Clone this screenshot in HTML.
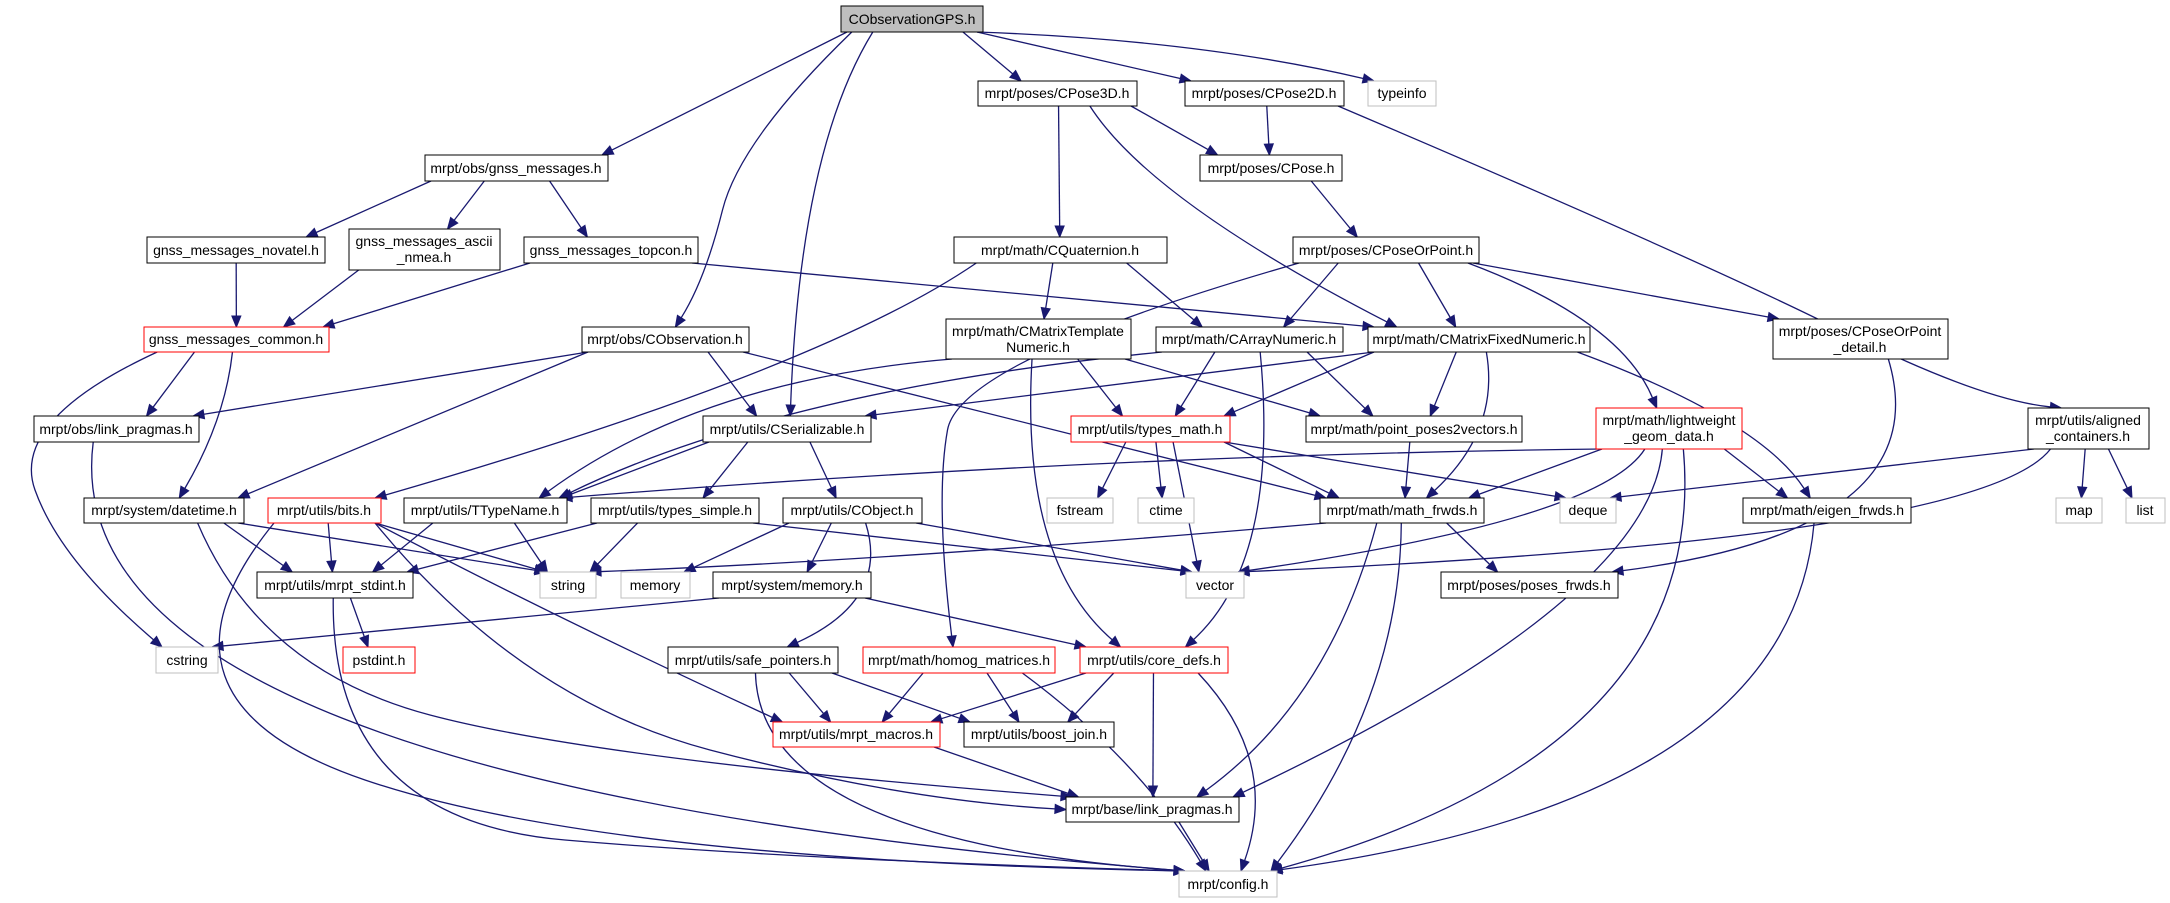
<!DOCTYPE html>
<html><head><meta charset="utf-8"><style>
html,body{margin:0;padding:0;background:#fff;width:2170px;height:903px;overflow:hidden}
svg text{font-family:"Liberation Sans",sans-serif;font-size:14px;fill:#000}
</style></head><body>
<svg id="g" width="2170" height="903" viewBox="0 0 2170 903" xmlns="http://www.w3.org/2000/svg">
<g id="edges" fill="none" stroke="#191970" stroke-width="1.3"></g>
<g id="arrows" fill="#191970" stroke="#191970"></g>
<g id="nodes">
<rect id="gps" x="841" y="6" width="142" height="26" fill="#bfbfbf" stroke="#000"/><text x="912" y="24" text-anchor="middle">CObservationGPS.h</text>
<rect id="pose3d" x="978" y="81" width="159" height="25" fill="#fff" stroke="#000"/><text x="1057" y="98" text-anchor="middle">mrpt/poses/CPose3D.h</text>
<rect id="pose2d" x="1185" y="81" width="159" height="25" fill="#fff" stroke="#000"/><text x="1264" y="98" text-anchor="middle">mrpt/poses/CPose2D.h</text>
<rect id="typeinfo" x="1368" y="81" width="68" height="25" fill="#fff" stroke="#bfbfbf"/><text x="1402" y="98" text-anchor="middle">typeinfo</text>
<rect id="gnss" x="425" y="155" width="183" height="26" fill="#fff" stroke="#000"/><text x="516" y="173" text-anchor="middle">mrpt/obs/gnss_messages.h</text>
<rect id="pose" x="1200" y="155" width="142" height="26" fill="#fff" stroke="#000"/><text x="1271" y="173" text-anchor="middle">mrpt/poses/CPose.h</text>
<rect id="novatel" x="147" y="237" width="178" height="26" fill="#fff" stroke="#000"/><text x="236" y="255" text-anchor="middle">gnss_messages_novatel.h</text>
<rect id="ascii" x="349" y="229" width="151" height="41" fill="#fff" stroke="#000"/><text x="424" y="246" text-anchor="middle">gnss_messages_ascii</text><text x="424" y="262" text-anchor="middle">_nmea.h</text>
<rect id="topcon" x="524" y="237" width="174" height="26" fill="#fff" stroke="#000"/><text x="611" y="255" text-anchor="middle">gnss_messages_topcon.h</text>
<rect id="quat" x="954" y="237" width="213" height="26" fill="#fff" stroke="#000"/><text x="1060" y="255" text-anchor="middle">mrpt/math/CQuaternion.h</text>
<rect id="cpop" x="1293" y="237" width="186" height="26" fill="#fff" stroke="#000"/><text x="1386" y="255" text-anchor="middle">mrpt/poses/CPoseOrPoint.h</text>
<rect id="common" x="144" y="327" width="185" height="25" fill="#fff" stroke="#ff0000"/><text x="236" y="344" text-anchor="middle">gnss_messages_common.h</text>
<rect id="cobs" x="582" y="327" width="167" height="25" fill="#fff" stroke="#000"/><text x="665" y="344" text-anchor="middle">mrpt/obs/CObservation.h</text>
<rect id="mtn" x="946" y="319" width="185" height="40" fill="#fff" stroke="#000"/><text x="1038" y="336" text-anchor="middle">mrpt/math/CMatrixTemplate</text><text x="1038" y="352" text-anchor="middle">Numeric.h</text>
<rect id="arr" x="1156" y="327" width="187" height="25" fill="#fff" stroke="#000"/><text x="1249" y="344" text-anchor="middle">mrpt/math/CArrayNumeric.h</text>
<rect id="mfix" x="1368" y="327" width="222" height="25" fill="#fff" stroke="#000"/><text x="1479" y="344" text-anchor="middle">mrpt/math/CMatrixFixedNumeric.h</text>
<rect id="cpopd" x="1773" y="319" width="175" height="40" fill="#fff" stroke="#000"/><text x="1860" y="336" text-anchor="middle">mrpt/poses/CPoseOrPoint</text><text x="1860" y="352" text-anchor="middle">_detail.h</text>
<rect id="olink" x="34" y="416" width="165" height="26" fill="#fff" stroke="#000"/><text x="116" y="434" text-anchor="middle">mrpt/obs/link_pragmas.h</text>
<rect id="cser" x="703" y="416" width="168" height="26" fill="#fff" stroke="#000"/><text x="787" y="434" text-anchor="middle">mrpt/utils/CSerializable.h</text>
<rect id="tmath" x="1071" y="416" width="159" height="26" fill="#fff" stroke="#ff0000"/><text x="1150" y="434" text-anchor="middle">mrpt/utils/types_math.h</text>
<rect id="pp2v" x="1306" y="416" width="216" height="26" fill="#fff" stroke="#000"/><text x="1414" y="434" text-anchor="middle">mrpt/math/point_poses2vectors.h</text>
<rect id="lw" x="1596" y="408" width="146" height="41" fill="#fff" stroke="#ff0000"/><text x="1669" y="425" text-anchor="middle">mrpt/math/lightweight</text><text x="1669" y="441" text-anchor="middle">_geom_data.h</text>
<rect id="aligned" x="2028" y="408" width="121" height="41" fill="#fff" stroke="#000"/><text x="2088" y="425" text-anchor="middle">mrpt/utils/aligned</text><text x="2088" y="441" text-anchor="middle">_containers.h</text>
<rect id="datetime" x="84" y="498" width="160" height="25" fill="#fff" stroke="#000"/><text x="164" y="515" text-anchor="middle">mrpt/system/datetime.h</text>
<rect id="bits" x="268" y="498" width="113" height="25" fill="#fff" stroke="#ff0000"/><text x="324" y="515" text-anchor="middle">mrpt/utils/bits.h</text>
<rect id="ttn" x="404" y="498" width="163" height="25" fill="#fff" stroke="#000"/><text x="485" y="515" text-anchor="middle">mrpt/utils/TTypeName.h</text>
<rect id="tsimple" x="591" y="498" width="168" height="25" fill="#fff" stroke="#000"/><text x="675" y="515" text-anchor="middle">mrpt/utils/types_simple.h</text>
<rect id="cobj" x="783" y="498" width="139" height="25" fill="#fff" stroke="#000"/><text x="852" y="515" text-anchor="middle">mrpt/utils/CObject.h</text>
<rect id="fstream" x="1047" y="498" width="66" height="25" fill="#fff" stroke="#bfbfbf"/><text x="1080" y="515" text-anchor="middle" fill="#000">fstream</text>
<rect id="ctime" x="1138" y="498" width="56" height="25" fill="#fff" stroke="#bfbfbf"/><text x="1166" y="515" text-anchor="middle">ctime</text>
<rect id="mfrwds" x="1320" y="498" width="164" height="25" fill="#fff" stroke="#000"/><text x="1402" y="515" text-anchor="middle">mrpt/math/math_frwds.h</text>
<rect id="deque" x="1560" y="498" width="56" height="25" fill="#fff" stroke="#bfbfbf"/><text x="1588" y="515" text-anchor="middle">deque</text>
<rect id="eigen" x="1743" y="498" width="168" height="25" fill="#fff" stroke="#000"/><text x="1827" y="515" text-anchor="middle">mrpt/math/eigen_frwds.h</text>
<rect id="map" x="2056" y="498" width="46" height="25" fill="#fff" stroke="#bfbfbf"/><text x="2079" y="515" text-anchor="middle">map</text>
<rect id="list" x="2126" y="498" width="39" height="25" fill="#fff" stroke="#bfbfbf"/><text x="2145" y="515" text-anchor="middle">list</text>
<rect id="stdint" x="257" y="572" width="156" height="26" fill="#fff" stroke="#000"/><text x="335" y="590" text-anchor="middle">mrpt/utils/mrpt_stdint.h</text>
<rect id="string" x="540" y="572" width="56" height="26" fill="#fff" stroke="#bfbfbf"/><text x="568" y="590" text-anchor="middle">string</text>
<rect id="memory" x="621" y="572" width="69" height="26" fill="#fff" stroke="#bfbfbf"/><text x="655" y="590" text-anchor="middle">memory</text>
<rect id="smem" x="713" y="572" width="158" height="26" fill="#fff" stroke="#000"/><text x="792" y="590" text-anchor="middle">mrpt/system/memory.h</text>
<rect id="vector" x="1186" y="572" width="58" height="26" fill="#fff" stroke="#bfbfbf"/><text x="1215" y="590" text-anchor="middle">vector</text>
<rect id="pfrwds" x="1441" y="572" width="177" height="26" fill="#fff" stroke="#000"/><text x="1529" y="590" text-anchor="middle">mrpt/poses/poses_frwds.h</text>
<rect id="cstring" x="156" y="647" width="62" height="26" fill="#fff" stroke="#bfbfbf"/><text x="187" y="665" text-anchor="middle">cstring</text>
<rect id="pstdint" x="343" y="647" width="72" height="26" fill="#fff" stroke="#ff0000"/><text x="379" y="665" text-anchor="middle">pstdint.h</text>
<rect id="safe" x="668" y="647" width="170" height="26" fill="#fff" stroke="#000"/><text x="753" y="665" text-anchor="middle">mrpt/utils/safe_pointers.h</text>
<rect id="homog" x="863" y="647" width="192" height="26" fill="#fff" stroke="#ff0000"/><text x="959" y="665" text-anchor="middle">mrpt/math/homog_matrices.h</text>
<rect id="core" x="1080" y="647" width="148" height="26" fill="#fff" stroke="#ff0000"/><text x="1154" y="665" text-anchor="middle">mrpt/utils/core_defs.h</text>
<rect id="macros" x="773" y="722" width="167" height="25" fill="#fff" stroke="#ff0000"/><text x="856" y="739" text-anchor="middle">mrpt/utils/mrpt_macros.h</text>
<rect id="boost" x="964" y="722" width="150" height="25" fill="#fff" stroke="#000"/><text x="1039" y="739" text-anchor="middle">mrpt/utils/boost_join.h</text>
<rect id="blink" x="1066" y="797" width="173" height="25" fill="#fff" stroke="#000"/><text x="1152" y="814" text-anchor="middle">mrpt/base/link_pragmas.h</text>
<rect id="config" x="1179" y="871" width="98" height="26" fill="#fff" stroke="#bfbfbf"/><text x="1228" y="889" text-anchor="middle">mrpt/config.h</text>
</g>
</svg>
<script>
(function(){
var E=[
['gps','gnss'],['gps','cobs',[[740,140],[705,280]]],['gps','cser',[[800,150]]],['gps','pose3d'],['gps','pose2d'],['gps','typeinfo',[[1200,40]]],
['gnss','novatel'],['gnss','ascii'],['gnss','topcon'],
['novatel','common'],['ascii','common'],['topcon','common'],['topcon','mfix'],
['common','olink'],['common','datetime',[[225,420]]],['common','cstring',[[10,420],[60,560]]],
['cobs','olink'],['cobs','datetime'],['cobs','cser'],['cobs','mfrwds'],
['pose3d','pose'],['pose3d','quat'],['pose3d','mfix',[[1150,200]]],
['pose2d','pose'],['pose2d','aligned',[[1700,260],[1980,400]]],
['pose','cpop'],
['cpop','arr'],['cpop','mfix'],['cpop','cpopd'],['cpop','lw',[[1620,320]]],['cpop','homog',[[960,360],[935,500]]],
['quat','mtn'],['quat','arr'],['quat','bits',[[820,370]]],
['mtn','ttn',[[700,380]]],['mtn','tmath'],['mtn','pp2v'],['mtn','core',[[1020,560]]],
['arr','ttn',[[780,390]]],['arr','tmath'],['arr','pp2v'],['arr','core',[[1280,560]]],
['mfix','cser'],['mfix','tmath'],['mfix','pp2v'],['mfix','mfrwds',[[1500,430]]],['mfix','eigen',[[1760,420]]],
['cpopd','pfrwds',[[1940,530]]],
['lw','ttn',[[1100,455]]],['lw','mfrwds'],['lw','eigen'],['lw','vector',[[1600,520]]],['lw','blink',[[1650,600]]],['lw','config',[[1710,750]]],
['aligned','deque'],['aligned','map'],['aligned','list'],['aligned','vector',[[1980,540]]],
['olink','config',[[50,780]]],
['cser','ttn'],['cser','tsimple'],['cser','cobj'],
['tmath','fstream'],['tmath','ctime'],['tmath','vector'],['tmath','mfrwds'],['tmath','deque'],
['pp2v','mfrwds'],
['datetime','stdint'],['datetime','string'],['datetime','blink',[[260,670],[600,760]]],
['bits','stdint'],['bits','string'],['bits','macros',[[560,620]]],['bits','blink',[[520,700],[900,800]]],['bits','config',[[130,700],[600,860]]],
['ttn','stdint'],['ttn','string'],
['tsimple','stdint'],['tsimple','string'],['tsimple','vector'],
['cobj','memory'],['cobj','smem'],['cobj','safe',[[890,600]]],['cobj','vector'],
['mfrwds','string',[[900,560]]],['mfrwds','pfrwds'],['mfrwds','blink',[[1330,700]]],['mfrwds','config',[[1400,700]]],
['eigen','config',[[1790,800]]],
['stdint','pstdint'],['stdint','config',[[330,820],[800,860]]],
['smem','cstring'],['smem','core'],
['safe','macros'],['safe','boost'],['safe','config',[[760,840]]],
['homog','macros'],['homog','boost'],['homog','config',[[1140,760]]],
['core','macros'],['core','boost'],['core','blink'],['core','config',[[1280,760]]],
['macros','blink'],['blink','config']
];
var NS='http://www.w3.org/2000/svg';
function R(id){var r=document.getElementById(id);var x=+r.getAttribute('x'),y=+r.getAttribute('y'),w=+r.getAttribute('width'),h=+r.getAttribute('height');return {x:x,y:y,w:w,h:h,cx:x+w/2,cy:y+h/2};}
function cl(v,a,b){return Math.max(a,Math.min(b,v));}
var eg=document.getElementById('edges'),ag=document.getElementById('arrows');
E.forEach(function(e){
 var s=R(e[0]),t=R(e[1]),wp=e[2]||[];
 var n1=wp.length?{x:wp[0][0],y:wp[0][1]}:{x:t.cx,y:t.cy};
 var n2=wp.length?{x:wp[wp.length-1][0],y:wp[wp.length-1][1]}:{x:s.cx,y:s.cy};
 var sx=cl(s.cx+(n1.x-s.cx)*0.35,s.x+6,s.x+s.w-6),sy=s.y+s.h;
 var tx,ty;
 if(t.y<=sy+5){tx=t.x+t.w+1;ty=t.cy;}
 else if(n2.y>t.y-5){ tx=(n2.x<t.cx)?t.x:t.x+t.w; ty=t.cy;}
 else{tx=cl(t.cx+(n2.x-t.cx)*0.25,t.x+6,t.x+t.w-6);ty=t.y;}
 var pts=[[sx,sy]].concat(wp).concat([[tx,ty]]);
 // back off end for arrow
 var p=pts[pts.length-2],dx=tx-p[0],dy=ty-p[1],L=Math.sqrt(dx*dx+dy*dy)||1,ux=dx/L,uy=dy/L;
 var ex=tx-ux*11,ey=ty-uy*11;
 pts[pts.length-1]=[ex,ey];
 var d='M'+pts[0][0]+','+pts[0][1];
 if(pts.length==2){d+=' L'+ex+','+ey;}
 else{
  for(var i=1;i<pts.length-1;i++){
   var mx=(pts[i][0]+pts[i+1][0])/2,my=(pts[i][1]+pts[i+1][1])/2;
   if(i==pts.length-2){mx=pts[i+1][0];my=pts[i+1][1];}
   d+=' Q'+pts[i][0]+','+pts[i][1]+' '+mx+','+my;
  }
 }
 var pa=document.createElementNS(NS,'path');pa.setAttribute('d',d);eg.appendChild(pa);
 var px=-uy,py=ux;
 var poly=document.createElementNS(NS,'polygon');
 poly.setAttribute('points',tx+','+ty+' '+(ex+px*4.5)+','+(ey+py*4.5)+' '+(ex-px*4.5)+','+(ey-py*4.5));
 ag.appendChild(poly);
});
})();
</script>
</body></html>
